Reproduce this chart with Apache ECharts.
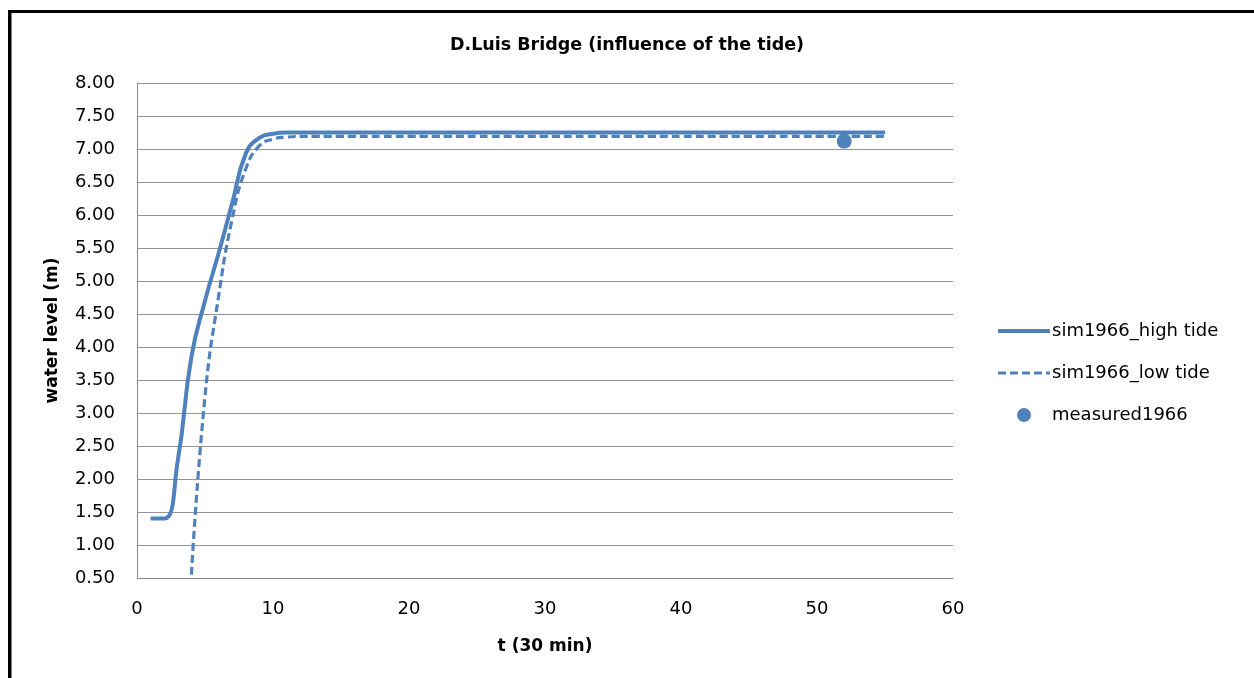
<!DOCTYPE html>
<html>
<head>
<meta charset="utf-8">
<script src="https://cdn.jsdelivr.net/npm/echarts@6/dist/echarts.min.js"></script>
<style>
html,body{margin:0;padding:0;background:#fff;}
#chart{width:1254px;height:678px;}
</style>
</head>
<body>
<div id="chart"></div>
<script>
// time steps (30 min)
const tHigh = [1,2,3,4,5,6,7,8,9,10,11,12,13,14,15,16,17,18,19,20,21,22,23,24,25,26,27,28,29,30,31,32,33,34,35,36,37,38,39,40,41,42,43,44,45,46,47,48,49,50,51,52,53,54,55];
const highTide = [1.40,1.40,2.28,3.85,4.70,5.42,6.18,6.93,7.17,7.23,7.25,7.25,7.25,7.25,7.25,7.25,7.25,7.25,7.25,7.25,7.25,7.25,7.25,7.25,7.25,7.25,7.25,7.25,7.25,7.25,7.25,7.25,7.25,7.25,7.25,7.25,7.25,7.25,7.25,7.25,7.25,7.25,7.25,7.25,7.25,7.25,7.25,7.25,7.25,7.25,7.25,7.25,7.25,7.25,7.25];
const tLow = [4,5,6,7,8,9,10,11,12,13,14,15,16,17,18,19,20,21,22,23,24,25,26,27,28,29,30,31,32,33,34,35,36,37,38,39,40,41,42,43,44,45,46,47,48,49,50,51,52,53,54,55];
const lowTide = [0.55,3.25,4.77,5.94,6.70,7.05,7.15,7.18,7.19,7.19,7.19,7.19,7.19,7.19,7.19,7.19,7.19,7.19,7.19,7.19,7.19,7.19,7.19,7.19,7.19,7.19,7.19,7.19,7.19,7.19,7.19,7.19,7.19,7.19,7.19,7.19,7.19,7.19,7.19,7.19,7.19,7.19,7.19,7.19,7.19,7.19,7.19,7.19,7.19,7.19,7.19,7.19];
const tMeasured = [52];
const measured = [7.12];
const seriesNames = ['sim1966_high tide','sim1966_low tide','measured1966'];

const pair = (xs, ys) => xs.map((x, i) => [x, ys[i]]);
const FONT = 'DejaVu Sans';
const BLUE = '#4F81BD';

const chart = echarts.init(document.getElementById('chart'), null, {renderer: 'canvas'});
chart.setOption({
  animation: false,
  backgroundColor: '#fff',
  title: {
    text: 'D.Luis Bridge (influence of the tide)',
    left: 'center',
    top: 31,
    textStyle: {fontFamily: FONT, fontSize: 17.5, fontWeight: 'bold', color: '#000'}
  },
  grid: {left: 137, right: 301, top: 83, bottom: 100},
  legend: {
    orient: 'vertical',
    left: 996,
    top: 321,
    padding: 0,
    itemWidth: 52,
    itemHeight: 14,
    itemGap: 22,
    textStyle: {fontFamily: FONT, fontSize: 18, color: '#000', lineHeight: 20, padding: [0, 0, 0, -3]},
    data: [
      {name: seriesNames[0], itemStyle: {opacity: 0}, lineStyle: {width: 4, color: BLUE, type: 'solid'}},
      {name: seriesNames[1], itemStyle: {opacity: 0}, lineStyle: {width: 3.2, color: BLUE, type: [8, 4]}},
      {name: seriesNames[2], icon: 'circle', itemStyle: {color: BLUE, opacity: 1}}
    ]
  },
  xAxis: {
    type: 'value', min: 0, max: 60, interval: 10,
    name: 't (30 min)', nameLocation: 'middle', nameGap: 60,
    nameTextStyle: {fontFamily: FONT, fontSize: 17, fontWeight: 'bold', color: '#000'},
    axisLine: {show: true, onZero: false, lineStyle: {color: '#8a8a8a', width: 1}},
    axisTick: {show: false},
    axisLabel: {fontFamily: FONT, fontSize: 18, color: '#000', margin: 22},
    splitLine: {show: false}
  },
  yAxis: {
    type: 'value', min: 0.5, max: 8, interval: 0.5,
    name: 'water level (m)', nameLocation: 'middle', nameGap: 76,
    nameTextStyle: {fontFamily: FONT, fontSize: 17, fontWeight: 'bold', color: '#000'},
    axisLine: {show: true, lineStyle: {color: '#8a8a8a', width: 1}},
    axisTick: {show: false},
    axisLabel: {fontFamily: FONT, fontSize: 18, color: '#000', margin: 22, formatter: v => v.toFixed(2)},
    splitLine: {show: true, lineStyle: {color: '#939393', width: 1}}
  },
  series: [
    {
      name: seriesNames[0], type: 'line', data: pair(tHigh, highTide),
      smooth: 0.5, symbol: 'none', clip: true,
      lineStyle: {color: BLUE, width: 4}, itemStyle: {color: BLUE}
    },
    {
      name: seriesNames[1], type: 'line', data: pair(tLow, lowTide),
      smooth: 0.5, symbol: 'none', clip: true,
      lineStyle: {color: BLUE, width: 3.2, type: [8, 4]}, itemStyle: {color: BLUE}
    },
    {
      name: seriesNames[2], type: 'scatter', data: pair(tMeasured, measured),
      symbol: 'circle', symbolSize: 15, itemStyle: {color: BLUE, opacity: 1}
    }
  ],
  graphic: [
    {type: 'rect', shape: {x: 8, y: 10, width: 1246, height: 3}, style: {fill: '#000'}, z: 100},
    {type: 'rect', shape: {x: 8, y: 10, width: 3.5, height: 668}, style: {fill: '#000'}, z: 100}
  ]
});
</script>
</body>
</html>
